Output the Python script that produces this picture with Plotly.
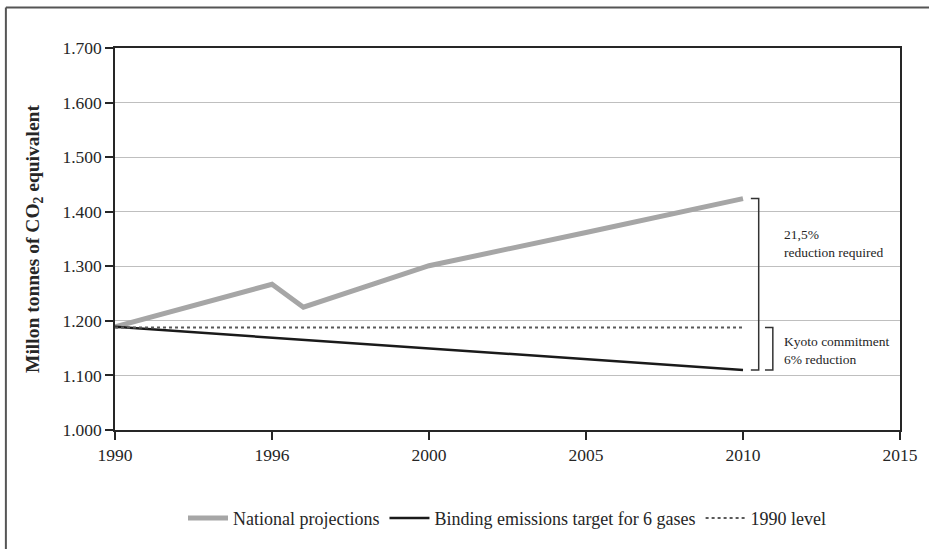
import plotly.graph_objects as go

# Category ticks on the x axis (equally spaced in the original chart)
tick_years = ['1990', '1996', '2000', '2005', '2010', '2015']
tick_pos = [0, 1, 2, 3, 4, 5]

# National projections (million tonnes CO2 eq.), x given as tick-index position
national_x = [0, 1, 1.2, 2, 3, 4]
national_y = [1189, 1267, 1225, 1301, 1362, 1424]

# Binding emissions target for 6 gases
binding_x = [0, 1, 2, 3, 4]
binding_y = [1189, 1169, 1150, 1130, 1110]

# 1990 level
level_x = [0, 4]
level_y = [1188, 1188]

y_ticks = [1000, 1100, 1200, 1300, 1400, 1500, 1600, 1700]

SERIF = 'Liberation Serif'
TXT = '#262626'

fig = go.Figure()

fig.add_trace(go.Scatter(
    x=national_x, y=national_y, mode='lines', name='National projections',
    line=dict(color='#a6a6a6', width=5),
))
fig.add_trace(go.Scatter(
    x=binding_x, y=binding_y, mode='lines', name='Binding emissions target for 6 gases',
    line=dict(color='#1a1a1a', width=2.5),
))
fig.add_trace(go.Scatter(
    x=level_x, y=level_y, mode='lines', name='1990 level',
    line=dict(color='#595959', width=2, dash='dot'),
))

# brackets on the right of the lines
end_nat = national_y[-1]
end_bind = binding_y[-1]
end_level = level_y[-1]
fig.add_shape(type='path', xref='x', yref='y',
              path=f'M 4.05,{end_nat} L 4.10,{end_nat} L 4.10,{end_bind} L 4.05,{end_bind}',
              line=dict(color='#333333', width=1.5))
fig.add_shape(type='path', xref='x', yref='y',
              path=f'M 4.14,{end_level} L 4.19,{end_level} L 4.19,{end_bind} L 4.14,{end_bind}',
              line=dict(color='#333333', width=1.5))

fig.add_annotation(x=4.25, y=1342, xref='x', yref='y', xanchor='left', align='left',
                   text='21,5%<br>reduction required', showarrow=False,
                   font=dict(family=SERIF, size=13.5, color=TXT))
fig.add_annotation(x=4.25, y=1145, xref='x', yref='y', xanchor='left', align='left',
                   text='Kyoto commitment<br>6% reduction', showarrow=False,
                   font=dict(family=SERIF, size=13.5, color=TXT))

# outer frame (top and left edges only)
fig.add_shape(type='line', xref='paper', yref='paper', x0=-0.139, x1=1.04, y0=1.106, y1=1.106,
              line=dict(color='#555555', width=2))
fig.add_shape(type='line', xref='paper', yref='paper', x0=-0.139, x1=-0.139, y0=1.106, y1=-0.4,
              line=dict(color='#555555', width=2))

tick_font = dict(family=SERIF, size=17.5, color=TXT)

fig.update_layout(
    width=929, height=549,
    margin=dict(l=115, r=29, t=48, b=116),
    plot_bgcolor='white', paper_bgcolor='white',
    separators=',.',
    font=dict(family=SERIF, size=17, color=TXT),
    showlegend=True,
    legend=dict(orientation='h', x=0.5, xanchor='center', y=-0.231, yanchor='middle',
                font=dict(family=SERIF, size=18, color=TXT), itemwidth=40,
                tracegroupgap=0),
    xaxis=dict(
        range=[0, 5], tickvals=tick_pos, ticktext=tick_years, tickfont=tick_font,
        showgrid=False, zeroline=False,
        showline=True, linecolor='#262626', linewidth=1.5, mirror=True,
        ticks='outside', ticklen=8, tickcolor='#262626', tickwidth=1.5,
    ),
    yaxis=dict(
        range=[1000, 1700], tickvals=y_ticks, tickformat=',d', tickfont=tick_font,
        showgrid=True, gridcolor='#bfbfbf', gridwidth=1, zeroline=False,
        showline=True, linecolor='#262626', linewidth=1.5, mirror=True,
        ticks='outside', ticklen=8, tickcolor='#262626', tickwidth=1.5,
        title=dict(text='<b>Millon tonnes of CO<sub>2</sub> equivalent</b>',
                   font=dict(family=SERIF, size=19.5, color=TXT), standoff=18),
    ),
)

# page body has a default 8px margin; drop it so the chart sits at the corner
fig.write_html('out.html', config={'displayModeBar': False},
               post_script="document.body.style.margin='0';")
